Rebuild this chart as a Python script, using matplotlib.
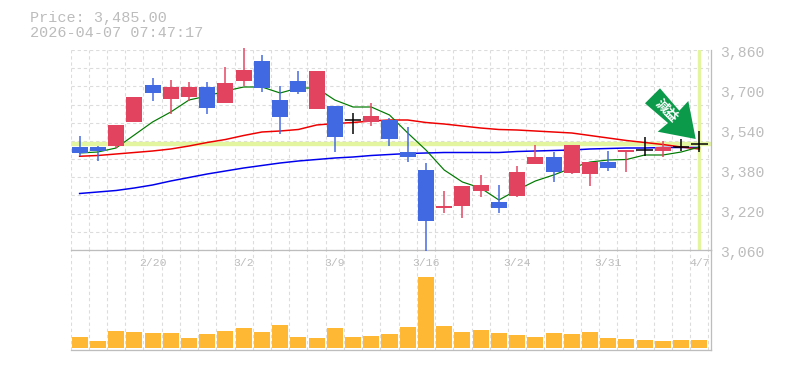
import numpy as np
import matplotlib

matplotlib.use("Agg")
import matplotlib.pyplot as plt
from matplotlib.patches import Polygon, Rectangle

plt.rcParams["font.family"] = ["Liberation Mono", "DejaVu Sans Mono"]

# daily candles, oldest first
opens = [3472, 3472, 3476, 3572, 3720, 3664, 3672, 3712, 3648, 3736, 3816, 3660,
         3736, 3624, 3636, 3579, 3572, 3580, 3452, 3380, 3228, 3236, 3296, 3252,
         3276, 3404, 3432, 3368, 3364, 3412, 3452, 3460, 3456, 3471, 3485]
highs = [3516, 3476, 3560, 3672, 3748, 3740, 3732, 3732, 3792, 3868, 3840, 3716,
         3776, 3776, 3636, 3608, 3648, 3588, 3552, 3408, 3296, 3316, 3360, 3320,
         3396, 3480, 3452, 3480, 3412, 3456, 3460, 3512, 3496, 3504, 3536]
lows = [3436, 3417, 3468, 3572, 3656, 3604, 3656, 3604, 3648, 3716, 3692, 3524,
        3684, 3624, 3452, 3524, 3556, 3476, 3412, 3057, 3208, 3188, 3272, 3208,
        3272, 3404, 3332, 3364, 3316, 3376, 3372, 3436, 3432, 3456, 3452]
closes = [3449, 3457, 3560, 3672, 3688, 3712, 3712, 3628, 3728, 3780, 3708, 3592,
          3692, 3776, 3512, 3579, 3596, 3504, 3432, 3176, 3236, 3316, 3320, 3228,
          3372, 3432, 3372, 3480, 3412, 3388, 3460, 3460, 3472, 3471, 3485]

ma_short = [3448, 3452, 3468, 3520, 3572, 3612, 3660, 3676, 3696, 3712, 3712, 3688,
            3708, 3708, 3660, 3632, 3632, 3600, 3528, 3460, 3380, 3332, 3308, 3260,
            3300, 3336, 3360, 3388, 3412, 3420, 3422, 3440, 3440, 3452, 3472]
ma_mid = [3435, 3438, 3444, 3450, 3456, 3464, 3476, 3490, 3502, 3518, 3532, 3536,
          3542, 3560, 3566, 3570, 3576, 3580, 3580, 3570, 3564, 3556, 3548, 3542,
          3540, 3536, 3532, 3528, 3518, 3508, 3498, 3490, 3482, 3472, 3464]
ma_long = [3286, 3292, 3298, 3308, 3320, 3336, 3350, 3364, 3376, 3388, 3398, 3408,
           3416, 3422, 3428, 3432, 3438, 3442, 3446, 3448, 3450, 3450, 3450, 3450,
           3454, 3456, 3458, 3460, 3464, 3466, 3468, 3468, 3470, 3470, 3470]
volumes = [11, 7, 17, 16, 15, 15, 10, 14, 17, 20, 16, 23, 11, 10, 20, 11, 12, 14,
           21, 71, 22, 16, 18, 15, 13, 11, 15, 14, 16, 10, 9, 8, 7, 8, 8]

date_pos = [4, 9, 14, 19, 24, 29, 34]
date_labels = ["2/20", "3/2", "3/9", "3/16", "3/24", "3/31", "4/7"]
price_ticks = [3060, 3220, 3380, 3540, 3700, 3860]
price_labels = ["3,060", "3,220", "3,380", "3,540", "3,700", "3,860"]
last_price = 3485

W, H = 785, 370
GRID = "#dcdcdc"
EDGE = "#bdbdbd"
TEXT = "#bcbcbc"
UP = "#e2445f"
DOWN = "#4169e1"
HILITE = "#e4f5a0"
px = 72 / 100


def axes_px(left, top, right, bottom):
    return [left / W, 1 - bottom / H, (right - left) / W, (bottom - top) / H]


def style_grid(ax, rows):
    ax.patch.set_visible(False)
    ax.set_xlim(-0.5, 34.61)
    ax.set_xticks(np.arange(-0.5, 35))
    ax.tick_params(which="both", length=0, labelbottom=False, labelleft=False,
                   labelright=False)
    ax.grid(True, axis="x", color=GRID, lw=1.1 * px, ls=(0, (3, 2.6)))
    if rows:
        ax.grid(True, axis="y", color=GRID, lw=1.1 * px, ls=(0, (3, 2.6)))
    ax.set_axisbelow(True)
    for name in ["top", "left"]:
        ax.spines[name].set_visible(False)
    for name in ["right", "bottom"]:
        ax.spines[name].set_color(EDGE)
        ax.spines[name].set_linewidth(1.3 * px)


fig = plt.figure(figsize=(W / 100, H / 100), dpi=100)
ax2 = fig.add_axes(axes_px(70.5, 250, 710.5, 350))
ax = fig.add_axes(axes_px(70.5, 50, 710.5, 250))

# price panel
style_grid(ax, True)
ax.set_ylim(3060, 3860)
ax.set_yticks(np.linspace(3060, 3860, 12))
ax.axhline(last_price, color=HILITE, lw=4.4 * px, zorder=1.5)
ax.axvline(34, color=HILITE, lw=3.4 * px, zorder=1.5)

# moving averages run under the candles
x = np.arange(len(closes))
ax.plot(x, ma_long, color="#0000ee", lw=1.5 * px, zorder=2)
ax.plot(x, ma_mid, color="#ee0000", lw=1.5 * px, zorder=2)
ax.plot(x, ma_short, color="#007a00", lw=1.2 * px, zorder=2)

body_w = 0.88
for i in range(len(opens)):
    o, h, l, c = opens[i], highs[i], lows[i], closes[i]
    if c == o:
        ax.plot([i, i], [l, h], color="black", lw=1.5 * px, zorder=5, clip_on=False,
                solid_capstyle="butt")
        ax.plot([i - 0.45, i + 0.45], [c, c], color="black", lw=1.5 * px, zorder=5,
                solid_capstyle="butt")
        continue
    col = UP if c > o else DOWN
    ax.plot([i, i], [l, h], color=col, lw=1.5 * px, zorder=3, clip_on=False,
            solid_capstyle="butt")
    ax.add_patch(Rectangle((i - body_w / 2, min(o, c)), body_w, abs(c - o),
                           facecolor=col, edgecolor="none", zorder=3))

# right-hand prices sit a little under their real level, as in the source chart
for v, lab in zip(price_ticks, price_labels):
    ax.annotate(lab, xy=(1, v), xycoords=ax.get_yaxis_transform(),
                xytext=(9.5 * px, -3 * px), textcoords="offset points",
                ha="left", va="center", color=TEXT, fontsize=10.6,
                annotation_clip=False)
for i, lab in zip(date_pos, date_labels):
    ax.annotate(lab, xy=(i, 3060), xytext=(0, -12.5 * px), textcoords="offset points",
                ha="center", va="center", color=TEXT, fontsize=8.2,
                annotation_clip=False)

# volume panel
style_grid(ax2, False)
ax2.set_ylim(-2, 98)
ax2.bar(x, volumes, width=body_w, color="#ffb833", zorder=3)

fig.text(30 / W, 1 - 18 / H, "Price: 3,485.00", color=TEXT, fontsize=10.9, va="center")
fig.text(30 / W, 1 - 33 / H, "2026-04-07 07:47:17", color=TEXT, fontsize=10.9, va="center")

# forecast arrow, drawn in figure pixels
arrow_px = [(660, 88.3), (645, 103.3), (668, 123), (657.7, 131.7), (695.7, 139),
            (688.3, 101), (679.3, 110.7)]
fig.add_artist(Polygon([(a / W, 1 - b / H) for a, b in arrow_px], closed=True,
                       transform=fig.transFigure, facecolor="#0a9a4a", edgecolor="none",
                       zorder=6))
fig.text(667 / W, 1 - 110.5 / H, "減益", color="white", fontsize=9.5, rotation=-45,
         ha="center", va="center", rotation_mode="anchor", fontweight="bold", zorder=7,
         family="Noto Sans CJK JP")

fig.savefig("out.png", dpi=100)
plt.close(fig)
